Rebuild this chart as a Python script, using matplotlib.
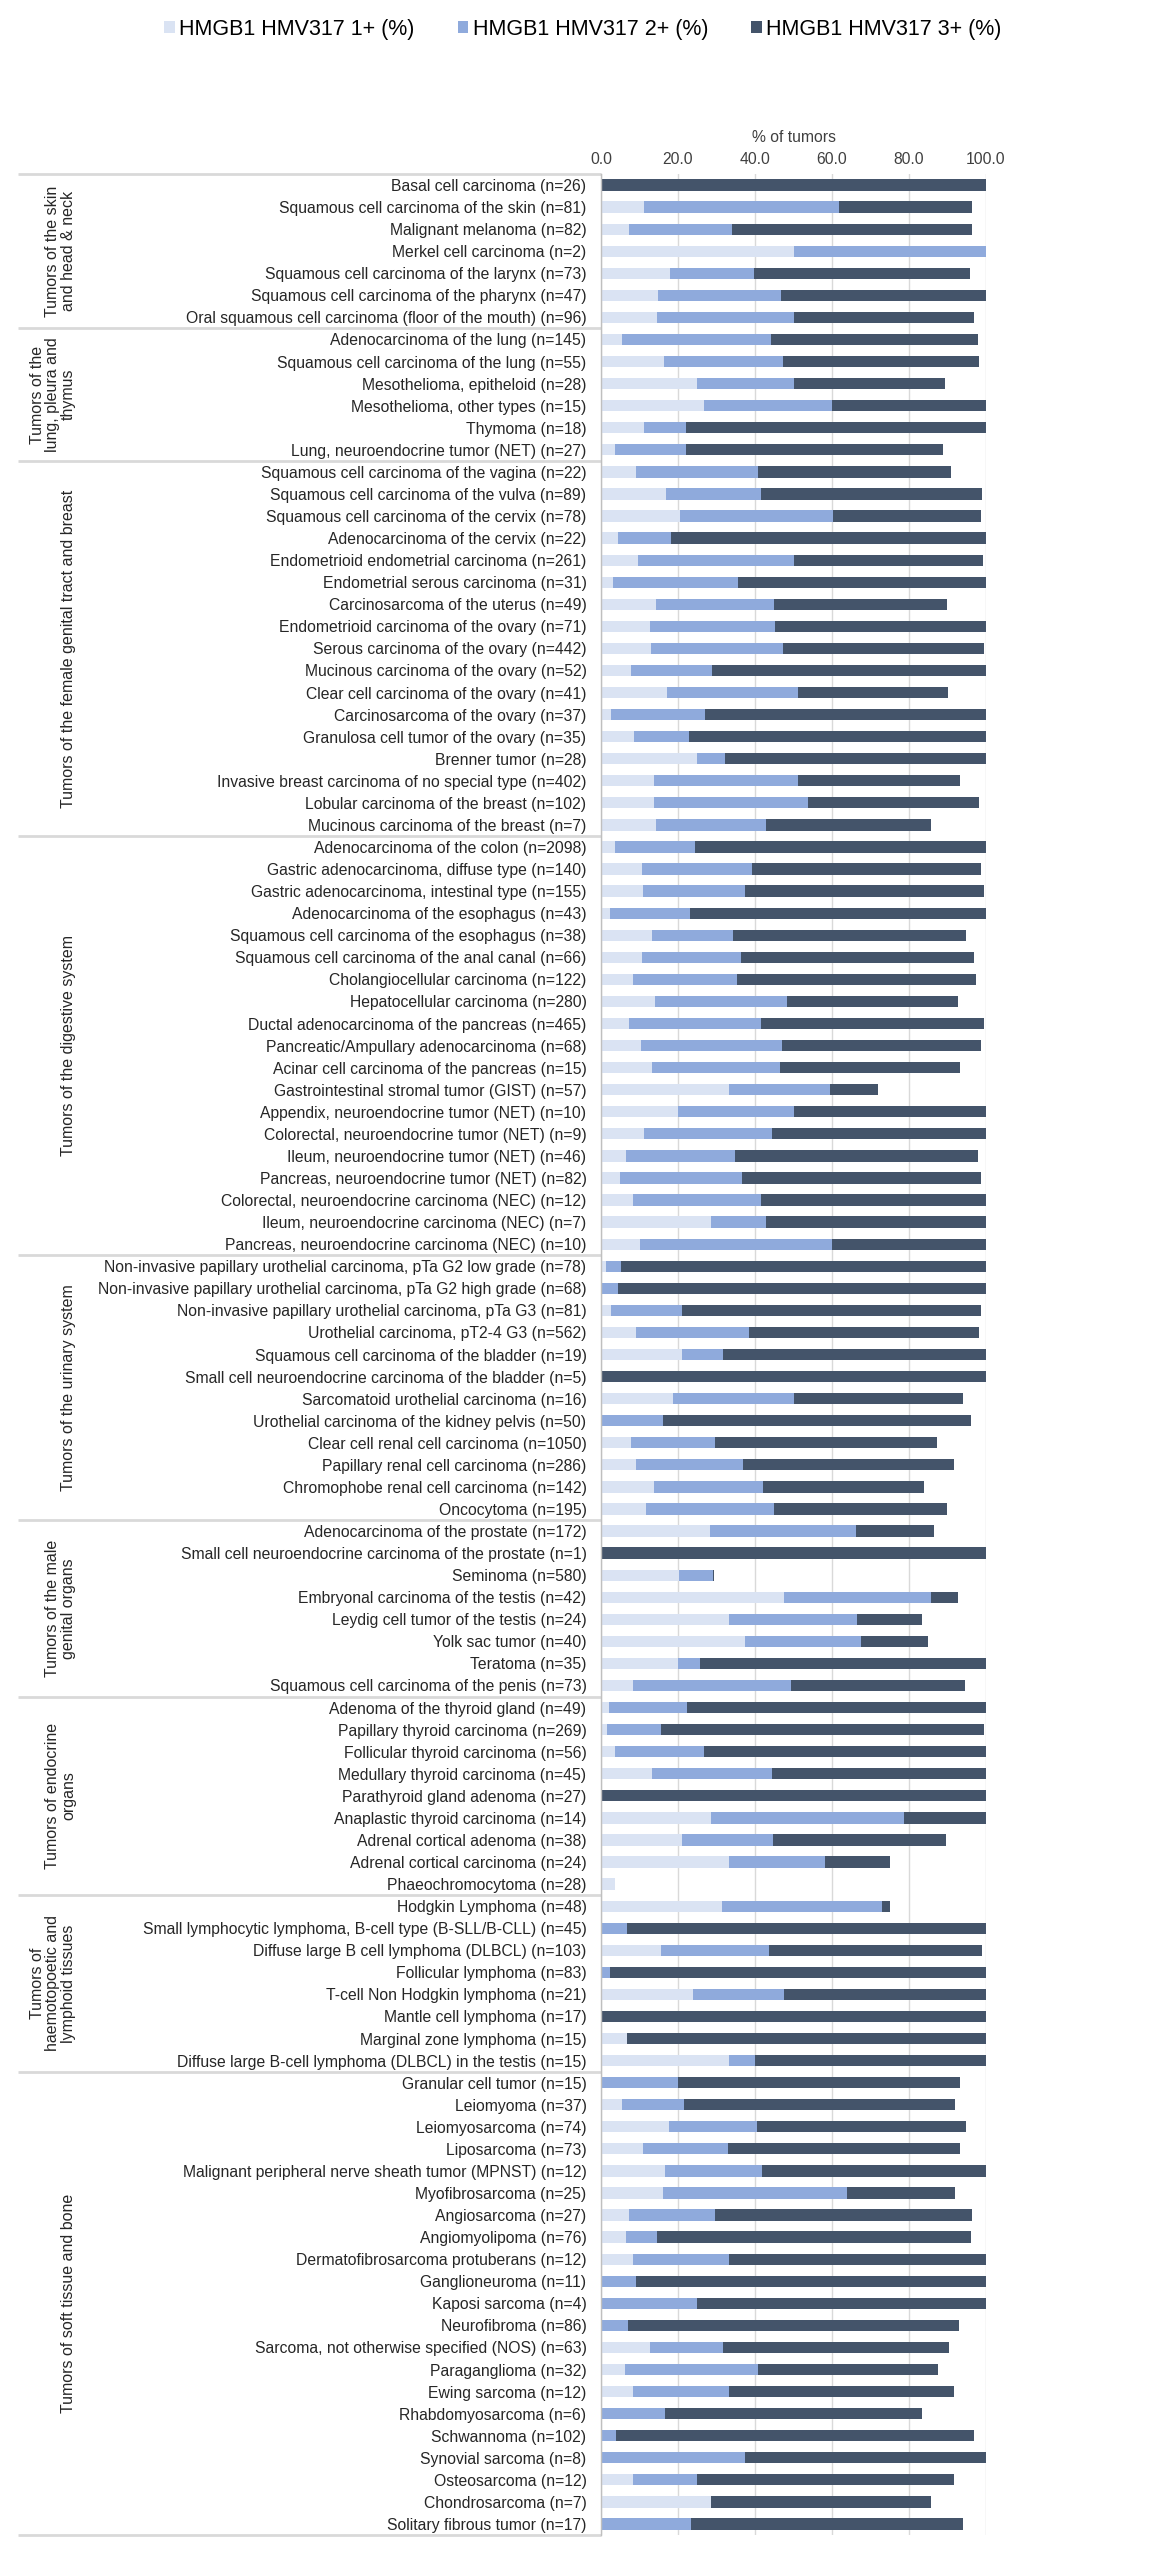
import matplotlib
matplotlib.use('Agg')
import matplotlib.pyplot as plt
import numpy as np

plt.rcParams['font.family'] = ['Liberation Sans', 'DejaVu Sans']

group_names = [
    "Tumors of the skin\nand head & neck",
    "Tumors of the\nlung, pleura and\nthymus",
    "Tumors of the female genital tract and breast",
    "Tumors of the digestive system",
    "Tumors of the urinary system",
    "Tumors of the male\ngenital organs",
    "Tumors of endocrine\norgans",
    "Tumors of\nhaemotopoetic and\nlymphoid tissues",
    "Tumors of soft tissue and bone",
]
group_sizes = [7, 6, 17, 19, 12, 8, 9, 8, 21]

categories = [
    "Basal cell carcinoma (n=26)",
    "Squamous cell carcinoma of the skin (n=81)",
    "Malignant melanoma (n=82)",
    "Merkel cell carcinoma (n=2)",
    "Squamous cell carcinoma of the larynx (n=73)",
    "Squamous cell carcinoma of the pharynx (n=47)",
    "Oral squamous cell carcinoma (floor of the mouth) (n=96)",
    "Adenocarcinoma of the lung (n=145)",
    "Squamous cell carcinoma of the lung (n=55)",
    "Mesothelioma, epitheloid (n=28)",
    "Mesothelioma, other types (n=15)",
    "Thymoma (n=18)",
    "Lung, neuroendocrine tumor (NET) (n=27)",
    "Squamous cell carcinoma of the vagina (n=22)",
    "Squamous cell carcinoma of the vulva (n=89)",
    "Squamous cell carcinoma of the cervix (n=78)",
    "Adenocarcinoma of the cervix (n=22)",
    "Endometrioid endometrial carcinoma (n=261)",
    "Endometrial serous carcinoma (n=31)",
    "Carcinosarcoma of the uterus (n=49)",
    "Endometrioid carcinoma of the ovary (n=71)",
    "Serous carcinoma of the ovary (n=442)",
    "Mucinous carcinoma of the ovary (n=52)",
    "Clear cell carcinoma of the ovary (n=41)",
    "Carcinosarcoma of the ovary (n=37)",
    "Granulosa cell tumor of the ovary (n=35)",
    "Brenner tumor (n=28)",
    "Invasive breast carcinoma of no special type (n=402)",
    "Lobular carcinoma of the breast (n=102)",
    "Mucinous carcinoma of the breast (n=7)",
    "Adenocarcinoma of the colon (n=2098)",
    "Gastric adenocarcinoma, diffuse type (n=140)",
    "Gastric adenocarcinoma, intestinal type (n=155)",
    "Adenocarcinoma of the esophagus (n=43)",
    "Squamous cell carcinoma of the esophagus (n=38)",
    "Squamous cell carcinoma of the anal canal (n=66)",
    "Cholangiocellular carcinoma (n=122)",
    "Hepatocellular carcinoma (n=280)",
    "Ductal adenocarcinoma of the pancreas (n=465)",
    "Pancreatic/Ampullary adenocarcinoma (n=68)",
    "Acinar cell carcinoma of the pancreas (n=15)",
    "Gastrointestinal stromal tumor (GIST) (n=57)",
    "Appendix, neuroendocrine tumor (NET) (n=10)",
    "Colorectal, neuroendocrine tumor (NET) (n=9)",
    "Ileum, neuroendocrine tumor (NET) (n=46)",
    "Pancreas, neuroendocrine tumor (NET) (n=82)",
    "Colorectal, neuroendocrine carcinoma (NEC) (n=12)",
    "Ileum, neuroendocrine carcinoma (NEC) (n=7)",
    "Pancreas, neuroendocrine carcinoma (NEC) (n=10)",
    "Non-invasive papillary urothelial carcinoma, pTa G2 low grade (n=78)",
    "Non-invasive papillary urothelial carcinoma, pTa G2 high grade (n=68)",
    "Non-invasive papillary urothelial carcinoma, pTa G3 (n=81)",
    "Urothelial carcinoma, pT2-4 G3 (n=562)",
    "Squamous cell carcinoma of the bladder (n=19)",
    "Small cell neuroendocrine carcinoma of the bladder (n=5)",
    "Sarcomatoid urothelial carcinoma (n=16)",
    "Urothelial carcinoma of the kidney pelvis (n=50)",
    "Clear cell renal cell carcinoma (n=1050)",
    "Papillary renal cell carcinoma (n=286)",
    "Chromophobe renal cell carcinoma (n=142)",
    "Oncocytoma (n=195)",
    "Adenocarcinoma of the prostate (n=172)",
    "Small cell neuroendocrine carcinoma of the prostate (n=1)",
    "Seminoma (n=580)",
    "Embryonal carcinoma of the testis (n=42)",
    "Leydig cell tumor of the testis (n=24)",
    "Yolk sac tumor (n=40)",
    "Teratoma (n=35)",
    "Squamous cell carcinoma of the penis (n=73)",
    "Adenoma of the thyroid gland (n=49)",
    "Papillary thyroid carcinoma (n=269)",
    "Follicular thyroid carcinoma (n=56)",
    "Medullary thyroid carcinoma (n=45)",
    "Parathyroid gland adenoma (n=27)",
    "Anaplastic thyroid carcinoma (n=14)",
    "Adrenal cortical adenoma (n=38)",
    "Adrenal cortical carcinoma (n=24)",
    "Phaeochromocytoma (n=28)",
    "Hodgkin Lymphoma (n=48)",
    "Small lymphocytic lymphoma, B-cell type (B-SLL/B-CLL) (n=45)",
    "Diffuse large B cell lymphoma (DLBCL) (n=103)",
    "Follicular lymphoma (n=83)",
    "T-cell Non Hodgkin lymphoma (n=21)",
    "Mantle cell lymphoma (n=17)",
    "Marginal zone lymphoma (n=15)",
    "Diffuse large B-cell lymphoma (DLBCL) in the testis (n=15)",
    "Granular cell tumor (n=15)",
    "Leiomyoma (n=37)",
    "Leiomyosarcoma (n=74)",
    "Liposarcoma (n=73)",
    "Malignant peripheral nerve sheath tumor (MPNST) (n=12)",
    "Myofibrosarcoma (n=25)",
    "Angiosarcoma (n=27)",
    "Angiomyolipoma (n=76)",
    "Dermatofibrosarcoma protuberans (n=12)",
    "Ganglioneuroma (n=11)",
    "Kaposi sarcoma (n=4)",
    "Neurofibroma (n=86)",
    "Sarcoma, not otherwise specified (NOS) (n=63)",
    "Paraganglioma (n=32)",
    "Ewing sarcoma (n=12)",
    "Rhabdomyosarcoma (n=6)",
    "Schwannoma (n=102)",
    "Synovial sarcoma (n=8)",
    "Osteosarcoma (n=12)",
    "Chondrosarcoma (n=7)",
    "Solitary fibrous tumor (n=17)",
]

pct_1plus = [
    0.0, 11.1, 7.3, 50.0, 17.8, 14.9, 14.6,
    5.5, 16.4, 25.0, 26.7, 11.1, 3.7,
    9.1, 16.9, 20.5, 4.5, 9.6, 3.2, 14.3, 12.7, 13.0, 7.7, 17.1, 2.7, 8.6, 25.0, 13.8, 13.8, 14.3,
    3.6, 10.7, 10.9, 2.3, 13.2, 10.6, 8.2, 14.0, 7.3, 10.3, 13.3, 33.3, 20.0, 11.1, 6.5, 4.9, 8.3, 28.6, 10.0,
    1.3, 0.0, 2.5, 9.0, 21.1, 0.0, 18.8, 0.0, 7.7, 9.2, 13.8, 11.7,
    28.4, 0.0, 20.3, 47.6, 33.3, 37.5, 20.0, 8.2,
    2.0, 1.5, 3.6, 13.3, 0.0, 28.6, 21.1, 33.3, 3.6,
    31.3, 0.0, 15.5, 0.0, 23.8, 0.0, 6.7, 33.3,
    0.0, 5.4, 17.6, 11.0, 16.7, 16.0, 7.4, 6.6, 8.3, 0.0, 0.0, 0.0, 12.7, 6.3, 8.3, 0.0, 0.0, 0.0, 8.3, 28.6, 0.0,
]
pct_2plus = [
    0.0, 50.6, 26.8, 50.0, 21.9, 31.9, 35.4,
    38.6, 30.9, 25.0, 33.3, 11.1, 18.5,
    31.8, 24.7, 39.7, 13.6, 40.6, 32.3, 30.6, 32.4, 34.3, 21.2, 34.1, 24.3, 14.3, 7.1, 37.3, 40.0, 28.6,
    20.9, 28.6, 26.6, 20.9, 21.1, 25.8, 27.0, 34.3, 34.3, 36.8, 33.3, 26.3, 30.0, 33.3, 28.3, 31.7, 33.3, 14.3, 50.0,
    3.8, 4.4, 18.5, 29.5, 10.5, 0.0, 31.3, 16.0, 22.0, 27.8, 28.3, 33.3,
    37.9, 0.0, 8.8, 38.1, 33.3, 30.0, 5.7, 41.1,
    20.4, 14.0, 23.2, 31.1, 0.0, 50.0, 23.7, 25.0, 0.0,
    41.7, 6.7, 28.2, 2.4, 23.8, 0.0, 0.0, 6.7,
    20.0, 16.2, 23.0, 21.9, 25.0, 48.0, 22.2, 7.9, 25.0, 9.1, 25.0, 7.0, 19.0, 34.4, 25.0, 16.7, 3.9, 37.5, 16.7, 0.0, 23.5,
]
pct_3plus = [
    100.0, 34.6, 62.2, 0.0, 56.2, 53.2, 46.9,
    53.8, 50.9, 39.3, 40.0, 77.8, 66.7,
    50.0, 57.3, 38.5, 81.8, 49.0, 64.5, 44.9, 54.9, 52.3, 71.2, 39.0, 73.0, 77.1, 67.9, 42.2, 44.3, 42.9,
    75.5, 59.4, 62.1, 76.7, 60.5, 60.6, 62.3, 44.4, 58.0, 51.5, 46.7, 12.3, 50.0, 55.6, 63.0, 62.2, 58.3, 57.1, 40.0,
    94.9, 95.6, 77.8, 59.6, 68.4, 100.0, 43.8, 80.0, 57.7, 54.8, 41.8, 44.8,
    20.3, 100.0, 0.3, 7.1, 16.7, 17.5, 74.3, 45.2,
    77.6, 84.1, 73.2, 55.6, 100.0, 21.4, 44.7, 16.7, 0.0,
    2.1, 93.3, 55.3, 97.6, 52.4, 100.0, 93.3, 60.0,
    73.3, 70.3, 54.1, 60.3, 58.3, 28.0, 66.7, 81.6, 66.7, 90.9, 75.0, 86.0, 58.7, 46.9, 58.3, 66.7, 93.1, 62.5, 66.7, 57.1, 70.6,
]

series_labels = ["HMGB1 HMV317 1+ (%)", "HMGB1 HMV317 2+ (%)", "HMGB1 HMV317 3+ (%)"]
colors = ["#DAE3F3", "#8FAADC", "#44546A"]

W, H = 1156, 2560
fig = plt.figure(figsize=(W / 100, H / 100), dpi=100)
x0, x1 = 601, 986
y_top, y_bot = 174, 2535
ax = fig.add_axes([x0 / W, 1 - y_bot / H, (x1 - x0) / W, (y_bot - y_top) / H])

n = len(categories)
y = np.arange(n)
p1 = np.array(pct_1plus)
p2 = np.array(pct_2plus)
p3 = np.array(pct_3plus)
bh = 0.51
b1 = ax.barh(y, p1, height=bh, color=colors[0], label=series_labels[0])
b2 = ax.barh(y, p2, left=p1, height=bh, color=colors[1], label=series_labels[1])
b3 = ax.barh(y, p3, left=p1 + p2, height=bh, color=colors[2], label=series_labels[2])

ax.set_xlim(0, 100)
ax.set_ylim(n - 0.5, -0.5)
ax.set_yticks(y)
ax.set_yticklabels(categories, fontsize=11.3, color='#262626')
ax.tick_params(axis='y', length=0, pad=10.5)

ax.xaxis.tick_top()
ax.xaxis.set_label_position('top')
ticks = [0, 20, 40, 60, 80, 100]
ax.set_xticks(ticks)
ax.set_xticklabels([f"{t:.1f}" for t in ticks])
ax.tick_params(axis='x', length=0, pad=5, labelsize=11.3, labelcolor='#404040')
ax.set_xlabel("% of tumors", fontsize=11.3, color='#404040', labelpad=7)

ax.grid(axis='x', color='#D9D9D9', linewidth=1)
ax.set_axisbelow(True)
for s in ['top', 'right', 'bottom']:
    ax.spines[s].set_visible(False)
ax.spines['left'].set_color('#BFBFBF')
ax.spines['left'].set_linewidth(1)

# group separators and group labels
trans = ax.get_yaxis_transform()
left_frac = (18 - x0) / (x1 - x0)
label_frac = (76 - x0) / (x1 - x0)
bounds = np.concatenate([[0], np.cumsum(group_sizes)])
for b in bounds:
    ax.plot([left_frac, 0], [b - 0.5, b - 0.5], transform=trans, clip_on=False,
            color='#D9D9D9', linewidth=2, solid_capstyle='butt')
for name, start, size in zip(group_names, bounds[:-1], group_sizes):
    yc = start + (size - 1) / 2
    ax.text(label_frac, yc, name, transform=trans, rotation=90, ha='right', va='center',
            multialignment='center', fontsize=11.5, color='#262626', linespacing=1.05)

fig.legend(handles=[b1, b2, b3], labels=series_labels, loc='center',
           bbox_to_anchor=(583 / W, 1 - 29 / H), ncol=3, frameon=False, fontsize=15.5,
           handlelength=0.5, handleheight=0.5, handletextpad=0.2, columnspacing=2.0)

fig.savefig("out.png", dpi=100)
